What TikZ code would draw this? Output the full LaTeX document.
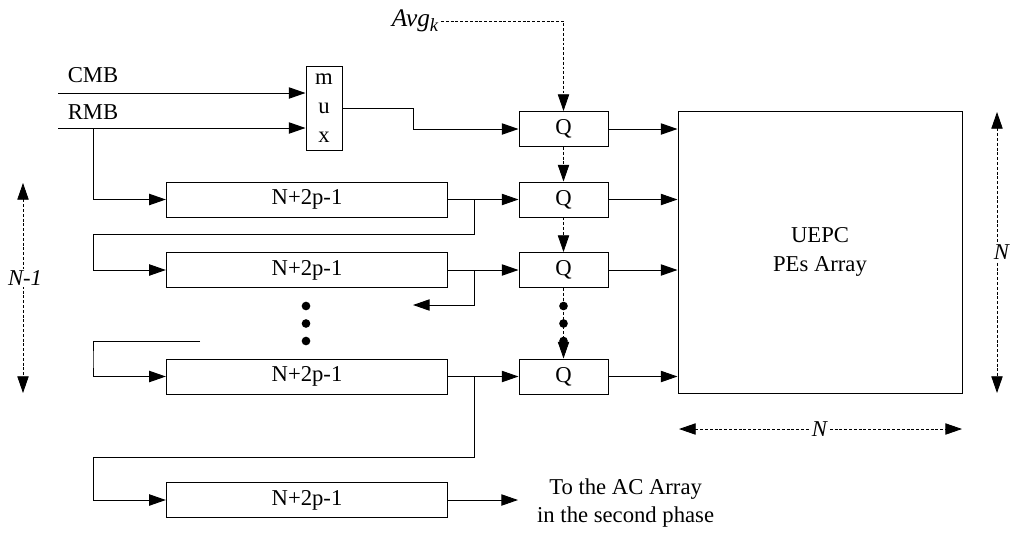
\documentclass[tikz,border=0pt]{standalone}
\usepackage{fontspec}
\setmainfont{Liberation Serif}
\usetikzlibrary{arrows.meta}
\begin{document}
\begin{tikzpicture}[x=0.75pt,y=-0.75pt,
  font=\fontsize{17}{21.5}\selectfont,
  line width=0.75pt,
  arr/.style={-{Triangle[length=12.5pt,width=8.5pt]}},
  darr/.style={{Triangle[length=12.5pt,width=8.5pt]}-{Triangle[length=12.5pt,width=8.5pt]}},
  dsh/.style={dash pattern=on 2.2pt off 1.4pt, line width=0.6pt},
  qbox/.style={draw, minimum width=66.75pt, minimum height=26.25pt, inner sep=0pt},
  dbox/.style={draw, minimum width=211pt, minimum height=26.25pt, inner sep=0pt},
  dotm/.style={fill, circle, inner sep=0pt, minimum size=6.5pt},
  lbl/.style={inner sep=1pt}
]
\useasboundingbox (0,0) rectangle (1012,532);

% labels
\node[lbl] (cmb) at (93,75) {CMB};
\node[lbl] (rmb) at (93,112) {RMB};
\node[lbl, anchor=east, font=\fontsize{19}{22}\selectfont] (avg) at (441,21) {\textit{Avg}\textsubscript{\fontsize{14}{14}\selectfont\textit{k}}};

% mux
\node[draw, minimum width=27pt, minimum height=63pt, inner sep=0pt, align=center] (mux) at (324,108) {m\\u\\x};

% Q boxes
\node[qbox] (Q1) at (563.5,129) {Q};
\node[qbox] (Q2) at (563.5,199.5) {Q};
\node[qbox] (Q3) at (563.5,270) {Q};
\node[qbox] (Q4) at (563.5,376.5) {Q};

% delay boxes
\node[dbox] (B1) at (307,199.5) {N+2p-1};
\node[dbox] (B2) at (307,270) {N+2p-1};
\node[dbox] (B3) at (307,376.5) {N+2p-1};
\node[dbox] (B4) at (307,500) {N+2p-1};

% UEPC
\node[draw, minimum width=213pt, minimum height=211.5pt, inner sep=0pt, align=center, font=\fontsize{17}{22}\selectfont] (U) at (820,252) {UEPC\\PEs Array};

% output text
\node[inner xsep=14pt, inner ysep=1pt, anchor=west, align=center, font=\fontsize{17}{21}\selectfont] (ac) at (518,503) {To the AC Array\\in the second phase};

% inputs
\coordinate (cmbin) at (58,93);
\coordinate (rmbin) at (58,128);
\draw[arr] (cmbin) -- (cmbin -| mux.west);
\draw[arr] (rmbin) -- (rmbin -| mux.west);
\coordinate (rmbbr) at (93,128);
\draw[arr] (rmbbr) |- (B1.west);

% mux to Q1
\draw[arr] (mux.east) -| (413,129) -- (Q1.west);

% Avg
\draw[dsh, arr] (avg.east) -| (Q1.north);

% delay chain
\draw[arr] (B1.east) -- (Q2.west);
\coordinate (br1) at (474,199.5);
\draw[arr] (br1) |- (93,234) |- (B2.west);
\draw[arr] (B2.east) -- (Q3.west);
\coordinate (br2) at (474,270);
\draw[arr] (br2) |- (413,305);
\node[dotm] (d1) at (306,306) {};
\node[dotm] (d2) at (306,323.5) {};
\node[dotm] (d3) at (306,341) {};
\coordinate (stub) at (200,341);
\draw[arr] (stub) -| (93,360) |- (B3.west);
\draw[arr] (B3.east) -- (Q4.west);
\coordinate (br3) at (474,376.5);
\draw[arr] (br3) |- (93,457) |- (B4.west);
\draw[arr] (B4.east) -- (B4.east -| ac.west);

% Q chain
\draw[dsh, arr] (Q1.south) -- (Q2.north);
\draw[dsh, arr] (Q2.south) -- (Q3.north);
\draw[dsh, arr] (Q3.south) -- (Q4.north);
\node[dotm] (e1) at (563.5,306) {};
\node[dotm] (e2) at (563.5,323.5) {};
\node[dotm] (e3) at (563.5,341) {};

% Q to UEPC
\draw[arr] (Q1.east) -- (Q1.east -| U.west);
\draw[arr] (Q2.east) -- (Q2.east -| U.west);
\draw[arr] (Q3.east) -- (Q3.east -| U.west);
\draw[arr] (Q4.east) -- (Q4.east -| U.west);

% dimension arrows
\coordinate (rt) at (997,112);
\coordinate (rb) at (997,393);
\draw[dsh, darr] (rt) -- (rb);
\node[fill=white, inner sep=1pt] (nr) at (1002,252) {\textit{N}};

\coordinate (bl) at (679,429);
\coordinate (br) at (962,429);
\draw[dsh, darr] (bl) -- (br);
\node[fill=white, inner sep=1pt] (nb) at (820,429) {\textit{N}};

\coordinate (lt) at (23,183);
\coordinate (lb) at (23,393);
\draw[dsh, darr] (lt) -- (lb);
\node[fill=white, inner sep=1pt] (nl) at (25,278) {\textit{N-1}};
\end{tikzpicture}
\end{document}
